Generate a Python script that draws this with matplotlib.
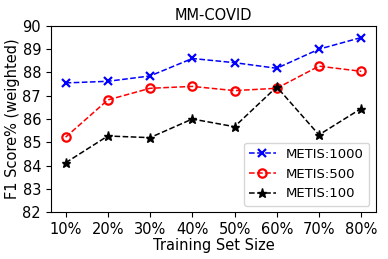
import matplotlib
matplotlib.use("Agg")
import matplotlib.pyplot as plt

sizes = ["10%", "20%", "30%", "40%", "50%", "60%", "70%", "80%"]
metis_1000 = [87.55, 87.62, 87.85, 88.6, 88.42, 88.18, 89.0, 89.5]
metis_500 = [85.22, 86.82, 87.32, 87.4, 87.22, 87.32, 88.27, 88.05]
metis_100 = [84.12, 85.27, 85.2, 86.0, 85.67, 87.38, 85.32, 86.45]

fig = plt.figure(figsize=(3.88, 2.59), dpi=100)
ax = fig.add_axes([0.131, 0.181, 0.838, 0.719])
x = range(len(sizes))
ax.plot(x, metis_1000, "x--", color="blue", ms=6, mew=1.6, lw=1.1, label="METIS:1000")
ax.plot(x, metis_500, "o--", color="red", ms=6, mew=1.6, lw=1.1, mfc="none", label="METIS:500")
ax.plot(x, metis_100, "*--", color="black", ms=6.5, lw=1.1, label="METIS:100")
ax.set_xticks(list(x))
ax.set_xticklabels(sizes)
ax.set_ylim(82, 90)
ax.set_yticks(range(82, 91))
ax.tick_params(labelsize=10.5)
ax.set_xlabel("Training Set Size", fontsize=10.5, labelpad=1)
ax.set_ylabel("F1 Score% (weighted)", fontsize=10.5, labelpad=2)
ax.set_title("MM-COVID", fontsize=10.5, pad=4)
ax.legend(loc="lower right", fontsize=9.5, handlelength=2.0, borderaxespad=0.5)
fig.savefig("out.png")
